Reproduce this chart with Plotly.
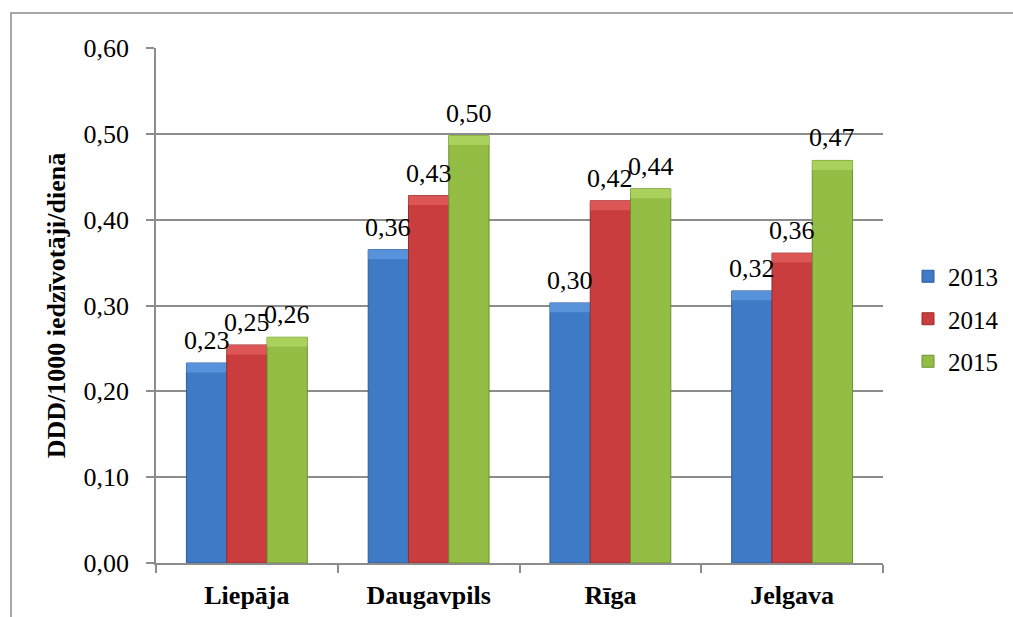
import plotly.graph_objects as go

# DDD per 1000 inhabitants per day, by city and year
cities = ["Liepāja", "Daugavpils", "Rīga", "Jelgava"]
years = ["2013", "2014", "2015"]
values_2013 = [0.233, 0.365, 0.303, 0.317]
values_2014 = [0.254, 0.428, 0.422, 0.361]
values_2015 = [0.263, 0.498, 0.436, 0.469]
series = [values_2013, values_2014, values_2015]

body_colors = ["#3E7AC6", "#C93D3E", "#94BD45"]
edge_colors = ["#2D5C9A", "#962C2D", "#6E9030"]
cap_colors = ["#5892DA", "#DD5656", "#AAD15C"]
CAP = 0.011  # height of the bevelled top of each bar, in data units

W, H = 1013, 617
ML, MR, MT, MB = 156, 130, 48, 54
plot_w = W - ML - MR
plot_h = H - MT - MB

FONT = "Liberation Serif"
BARGAP = 0.335
slot = (1 - BARGAP) / len(years)

fig = go.Figure()
for i, (year, vals) in enumerate(zip(years, series)):
    fig.add_trace(go.Bar(
        name=year,
        x=cities,
        y=vals,
        offsetgroup=year,
        marker=dict(color=body_colors[i], line=dict(color=edge_colors[i], width=1)),
        legendgroup=year,
    ))
    # lighter bevel strip along the top of each bar
    fig.add_trace(go.Bar(
        x=cities,
        y=[CAP] * len(vals),
        base=[v - CAP for v in vals],
        offsetgroup=year,
        marker=dict(color=cap_colors[i], line=dict(width=0)),
        showlegend=False,
        hoverinfo="skip",
        legendgroup=year,
    ))
    # value labels above the bars
    for j, v in enumerate(vals):
        fig.add_annotation(
            x=j + (i - 1) * slot, y=v, xref="x", yref="y",
            text=f"{v:.2f}".replace(".", ","),
            showarrow=False, yanchor="bottom", yshift=6,
            font=dict(family=FONT, size=26, color="black"),
        )

# outer chart frame (only the left and top edges fall inside the page)
fig.add_shape(type="rect", xref="paper", yref="paper",
              x0=(11 - ML) / plot_w, x1=(W + 5 - ML) / plot_w,
              y0=-(MB + 5) / plot_h, y1=(H - MB - 13) / plot_h,
              line=dict(color="#8C8C8C", width=1.5), layer="below")

fig.update_layout(
    width=W, height=H,
    margin=dict(l=ML, r=MR, t=MT, b=MB, autoexpand=False),
    paper_bgcolor="white", plot_bgcolor="white",
    separators=", ",
    barmode="group", bargap=BARGAP, bargroupgap=0,
    font=dict(family=FONT, size=26, color="black"),
    showlegend=True,
    legend=dict(
        x=(908 - ML) / plot_w, xanchor="left",
        y=(H - MB - 319) / plot_h, yanchor="middle",
        font=dict(family=FONT, size=25, color="black"),
        tracegroupgap=7,
        bgcolor="rgba(0,0,0,0)",
    ),
    xaxis=dict(
        showline=True, linecolor="#8C8C8C", linewidth=1.5,
        ticks="outside", tickson="boundaries", ticklen=8, tickcolor="#8C8C8C", tickwidth=1.5,
        ticklabelstandoff=8,
        tickfont=dict(family=FONT, size=26, color="black", weight="bold"),
        showgrid=False,
    ),
    yaxis=dict(
        range=[0, 0.6], dtick=0.1, tickformat=".2f",
        showline=True, linecolor="#8C8C8C", linewidth=1.5,
        ticks="outside", ticklen=8, tickcolor="#8C8C8C", tickwidth=1.5,
        ticklabelstandoff=12,
        showgrid=True, gridcolor="#8C8C8C", gridwidth=1.5,
        zeroline=False,
        tickfont=dict(family=FONT, size=26, color="black"),
        title=dict(text="DDD/1000 iedzīvotāji/dienā",
                   font=dict(family=FONT, size=26, color="black", weight="bold"),
                   standoff=10),
    ),
)

fig.write_html("out.html")
